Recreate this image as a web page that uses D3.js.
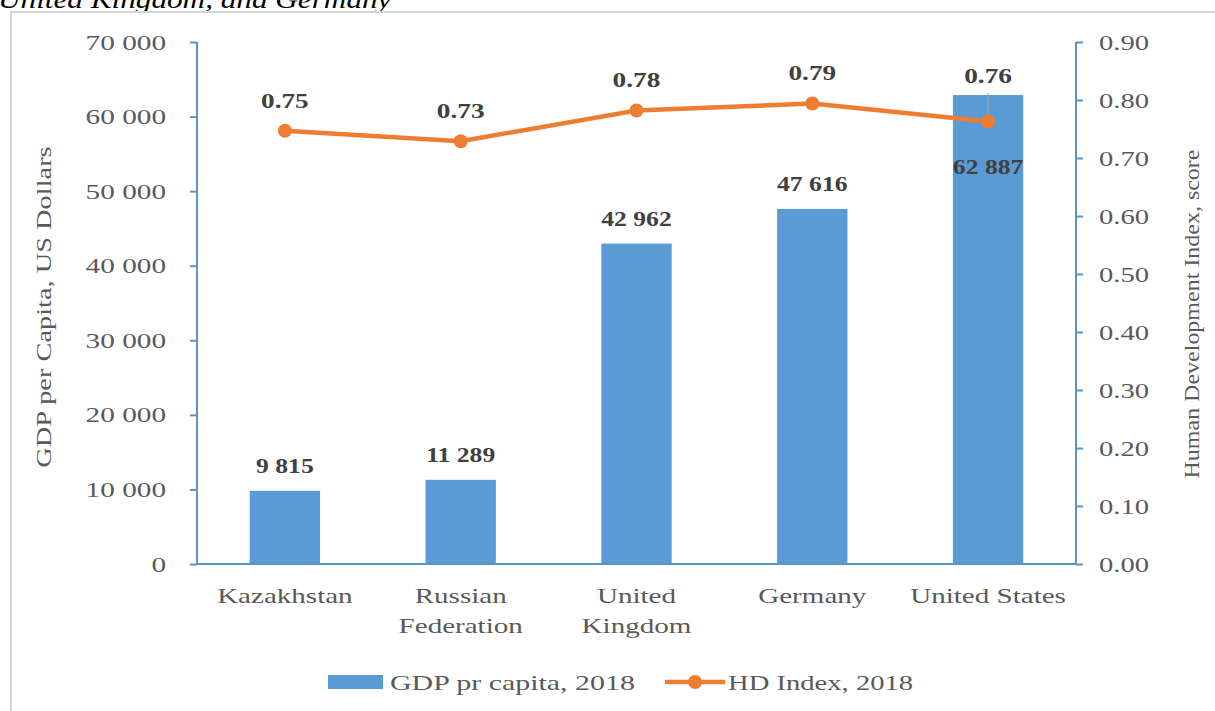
<!DOCTYPE html>
<html>
<head>
<meta charset="utf-8">
<script src="https://cdn.jsdelivr.net/npm/d3@7"></script>
<style>
    body { margin: 0; background: #fff; }
    svg { display: block; font-family: "Liberation Serif", "DejaVu Serif", serif; }
    .tick-label { fill: #595959; font-size: 22px; }
    .value-label { fill: #404040; font-size: 21px; font-weight: bold; }
</style>
</head>
<body>
<div id="chart"></div>
<script>
// Data
const countries = [["Kazakhstan"], ["Russian", "Federation"], ["United", "Kingdom"], ["Germany"], ["United States"]];
const gdpValues = [9815, 11289, 42962, 47616, 62887];
const hdiValues = [0.747, 0.729, 0.782, 0.794, 0.763];
const gdpTicks = [0, 10000, 20000, 30000, 40000, 50000, 60000, 70000];
const hdiTicks = [0, 0.1, 0.2, 0.3, 0.4, 0.5, 0.6, 0.7, 0.8, 0.9];

let width = 1215, height = 711;
let margin = {top: 42, right: 139, bottom: 147, left: 197};
let innerW = width - margin.left - margin.right,
    innerH = height - margin.top - margin.bottom;

// the source font renders wide, so widen the glyphs a bit
function stretch(sel, k) {
    sel.each(function () {
        let len = this.getComputedTextLength();
        d3.select(this).attr("textLength", len * k).attr("lengthAdjust", "spacingAndGlyphs");
    });
}

let svg = d3.select("#chart").append("svg")
    .attr("width", width)
    .attr("height", height);

// caption cut off at top of the page
let caption = svg.append("text")
    .attr("x", -2)
    .attr("y", 8)
    .attr("font-size", 26)
    .attr("font-style", "italic")
    .attr("fill", "#000")
    .text("United Kingdom, and Germany");
stretch(caption, 1.2);

// chart frame
svg.append("rect")
    .attr("x", 11)
    .attr("y", 12)
    .attr("width", 1230)
    .attr("height", 720)
    .attr("fill", "none")
    .attr("stroke", "#d6d6d6")
    .attr("stroke-width", 2);

let g = svg.append("g")
    .attr("transform", "translate(" + margin.left + "," + margin.top + ")");

let x = d3.scaleBand()
    .domain(d3.range(countries.length))
    .range([0, innerW])
    .paddingInner(0.6)
    .paddingOuter(0.3);

let y = d3.scaleLinear().domain([0, 70000]).range([innerH, 0]);
let y2 = d3.scaleLinear().domain([0, 0.9]).range([innerH, 0]);

let fmtGdp = d => d3.format(",")(d).replace(/,/g, " ");

// bars
g.selectAll(".bar")
    .data(gdpValues)
    .enter().append("rect")
    .attr("class", "bar")
    .attr("x", (d, i) => x(i))
    .attr("y", d => y(d))
    .attr("width", x.bandwidth())
    .attr("height", d => innerH - y(d))
    .attr("fill", "#5b9bd5");

// axes
let axisColor = "#5b93c4";
let leftAxis = g.append("g")
    .call(d3.axisLeft(y).tickValues(gdpTicks).tickSize(7).tickFormat(fmtGdp));
let rightAxis = g.append("g")
    .attr("transform", "translate(" + innerW + ",0)")
    .call(d3.axisRight(y2).tickValues(hdiTicks).tickSize(7).tickFormat(d3.format(".2f")));
[leftAxis, rightAxis].forEach(a => {
    a.select(".domain").remove();
    a.selectAll("line").attr("stroke", axisColor).attr("stroke-width", 2);
    a.selectAll("text").attr("class", "tick-label")
        .style("font-family", "Liberation Serif, serif").style("font-size", "22px");
});
leftAxis.selectAll("text").attr("x", -31);
rightAxis.selectAll("text").attr("x", 23);
stretch(leftAxis.selectAll("text"), 1.33);
stretch(rightAxis.selectAll("text"), 1.3);
g.append("line").attr("x1", 0).attr("x2", 0).attr("y1", 0).attr("y2", innerH)
    .attr("stroke", axisColor).attr("stroke-width", 2);
g.append("line").attr("x1", innerW).attr("x2", innerW).attr("y1", 0).attr("y2", innerH)
    .attr("stroke", axisColor).attr("stroke-width", 2);
g.append("line").attr("x1", 0).attr("x2", innerW).attr("y1", innerH).attr("y2", innerH)
    .attr("stroke", axisColor).attr("stroke-width", 2);

// category labels, one text per line
countries.forEach((lines, i) => {
    lines.forEach((t, j) => {
        let lbl = g.append("text")
            .attr("class", "tick-label")
            .attr("text-anchor", "middle")
            .attr("x", x(i) + x.bandwidth() / 2)
            .attr("y", innerH + 39 + j * 30)
            .text(t);
        stretch(lbl, 1.32);
    });
});

// axis titles
let yTitle = svg.append("text")
    .attr("class", "tick-label")
    .attr("text-anchor", "middle")
    .attr("transform", "translate(51,307) rotate(-90)")
    .text("GDP per Capita, US Dollars");
stretch(yTitle, 1.29);
let y2Title = svg.append("text")
    .attr("class", "tick-label")
    .attr("text-anchor", "middle")
    .attr("transform", "translate(1199,314) rotate(-90)")
    .text("Human Development Index, score");
stretch(y2Title, 1.09);

// leader line for the US label
let last = hdiValues.length - 1;
g.append("line")
    .attr("x1", x(last) + x.bandwidth() / 2)
    .attr("x2", x(last) + x.bandwidth() / 2)
    .attr("y1", y(gdpValues[last]) - 2)
    .attr("y2", y2(hdiValues[last]))
    .attr("stroke", "#a6a6a6")
    .attr("stroke-width", 1);

// HDI line
let line = d3.line()
    .x((d, i) => x(i) + x.bandwidth() / 2)
    .y(d => y2(d));
g.append("path")
    .datum(hdiValues)
    .attr("d", line)
    .attr("fill", "none")
    .attr("stroke", "#ed7d31")
    .attr("stroke-width", 4.5);
g.selectAll(".dot")
    .data(hdiValues)
    .enter().append("circle")
    .attr("cx", (d, i) => x(i) + x.bandwidth() / 2)
    .attr("cy", d => y2(d))
    .attr("r", 7)
    .attr("fill", "#ed7d31");

// value labels
let gdpLabels = g.selectAll(".gdp-label")
    .data(gdpValues)
    .enter().append("text")
    .attr("class", "value-label")
    .attr("text-anchor", "middle")
    .attr("x", (d, i) => x(i) + x.bandwidth() / 2)
    .attr("y", (d, i) => i === last ? y2(hdiValues[i]) + 53 : y(d) - 18)
    .text(fmtGdp);
stretch(gdpLabels, 1.22);
let hdiLabels = g.selectAll(".hdi-label")
    .data(hdiValues)
    .enter().append("text")
    .attr("class", "value-label")
    .attr("text-anchor", "middle")
    .attr("x", (d, i) => x(i) + x.bandwidth() / 2)
    .attr("y", (d, i) => i === last ? y(gdpValues[i]) - 12 : y2(d) - 23)
    .text(d3.format(".2f"));
stretch(hdiLabels, 1.3);

// legend
let legend = svg.append("g").attr("transform", "translate(328,682)");
legend.append("rect").attr("x", 0).attr("y", -7).attr("width", 55).attr("height", 14).attr("fill", "#5b9bd5");
let lt1 = legend.append("text").attr("class", "tick-label").attr("x", 62).attr("y", 8).text("GDP pr capita, 2018");
stretch(lt1, 1.36);
legend.append("line").attr("x1", 337).attr("x2", 397).attr("y1", 0).attr("y2", 0)
    .attr("stroke", "#ed7d31").attr("stroke-width", 4.5);
legend.append("circle").attr("cx", 367).attr("cy", 0).attr("r", 7).attr("fill", "#ed7d31");
let lt2 = legend.append("text").attr("class", "tick-label").attr("x", 400).attr("y", 8).text("HD Index, 2018");
stretch(lt2, 1.3);
</script>
</body>
</html>
